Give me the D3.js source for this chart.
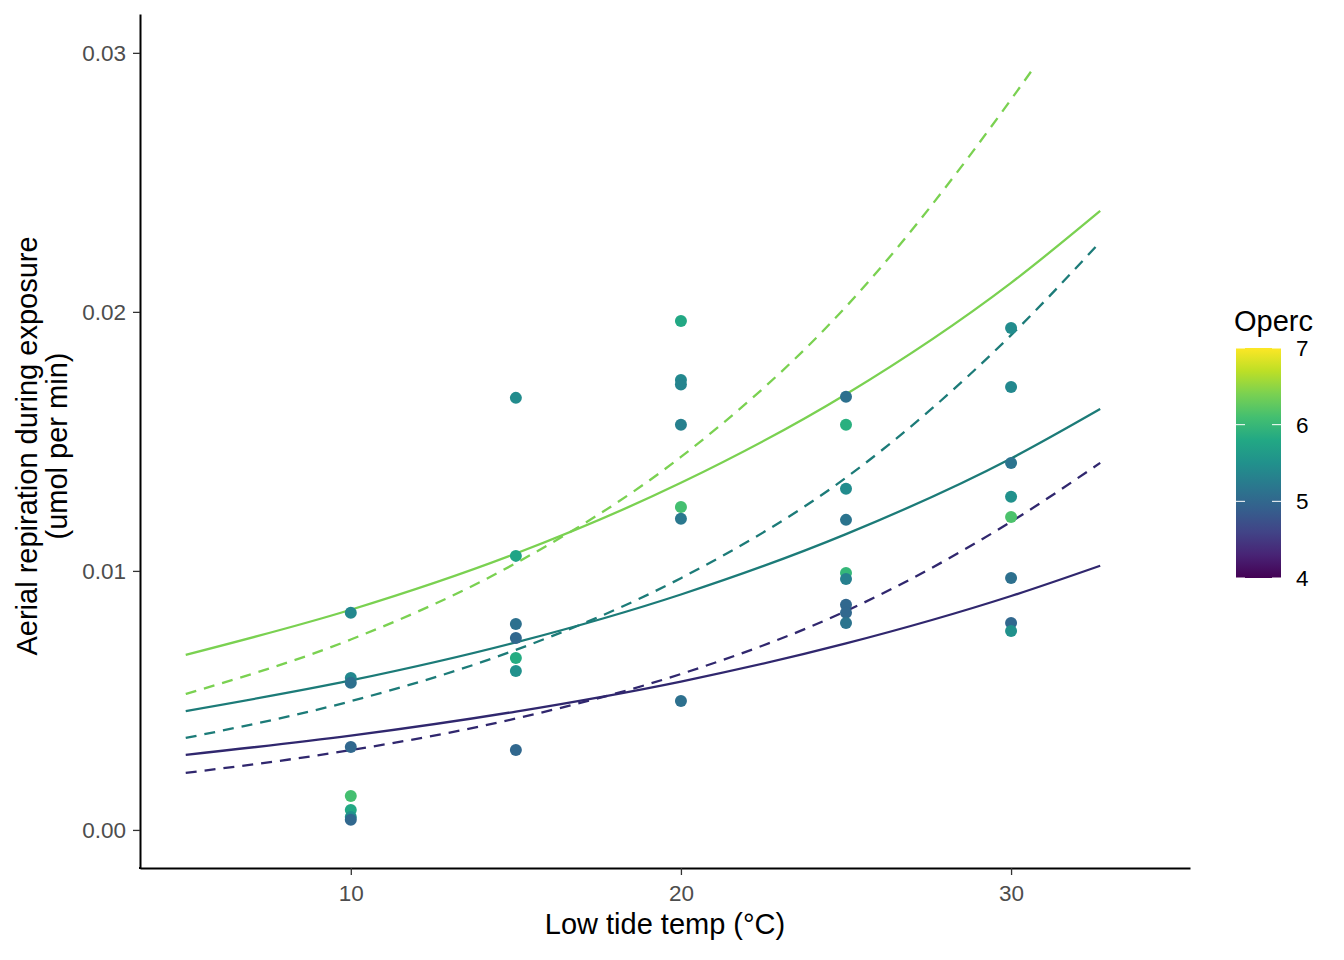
<!DOCTYPE html>
<html>
<head>
<meta charset="utf-8">
<script src="https://cdn.jsdelivr.net/npm/d3@7"></script>
<style>
  body { margin: 0; background: #fff; }
  text { font-family: "Liberation Sans", Arial, sans-serif; }
</style>
</head>
<body>
<svg id="chart" width="1344" height="960"></svg>
<script>
// ---- data ----
var ptTemp  = [10,10,10,10,10,10,10,10,
               15,15,15,15,15,15,15,
               20,20,20,20,20,20,20,
               25,25,25,25,25,25,25,25,25,
               30,30,30,30,30,30,30,30]
var ptResp  = [0.00838,0.00587,0.00568,0.0032,0.00131,0.00077,0.0005,0.00039,
               0.01668,0.01058,0.00795,0.00741,0.00664,0.00614,0.00309,
               0.01965,0.01737,0.0172,0.01564,0.01247,0.01201,0.00498,
               0.01672,0.01564,0.01317,0.01197,0.00992,0.00969,0.00869,0.00838,0.00799,
               0.01938,0.0171,0.01417,0.01286,0.01208,0.00973,0.00799,0.00768]
var ptOperc = [5.4,5.4,5.1,5.0,6.1,5.8,5.5,5.0,
               5.45,5.75,5.1,5.0,5.85,5.5,5.0,
               5.8,5.4,5.35,5.3,6.1,5.2,5.1,
               5.1,5.9,5.45,5.15,6.0,5.3,5.0,5.0,5.15,
               5.45,5.4,5.15,5.5,6.15,5.1,5.0,5.5]

// fitted curves, read at these temperatures
var lineTemp = [5,10,15,20,25,30,32.7]
var solidLow  = [0.0029,0.00364,0.00457,0.00573,0.0072,0.00903,0.0102]
var solidMid  = [0.00459,0.00577,0.00724,0.00909,0.01142,0.01434,0.01625]
var solidHigh = [0.00676,0.0085,0.01067,0.0134,0.01682,0.02112,0.0239]
var dashLow   = [0.0022,0.00308,0.0043,0.00602,0.00845,0.0119,0.01417]
var dashMid   = [0.00355,0.00497,0.00695,0.00972,0.0136,0.0191,0.0227]
var dashHighTemp = [5,10,15,20,25,30,30.73]
var dashHigh  = [0.00525,0.00735,0.0103,0.0144,0.0202,0.0282,0.0295]

var xTicks = [10,20,30]
var yTicks = [0,0.01,0.02,0.03]
var legendTicks = [4,5,6,7]

var svg = d3.select("#chart")

var pLeft = 140, pRight = 1190, pTop = 14, pBottom = 868

var x = d3.scaleLinear().domain([3.615, 35.42]).range([pLeft, pRight])
var y = d3.scaleLinear().domain([-0.00147, 0.0315]).range([pBottom, pTop])
var col = d3.scaleSequential(d3.interpolateViridis).domain([4, 7])

svg.append("rect").attr("width",1344).attr("height",960).attr("fill","#fff")

// lines
var line = d3.line()
  .x(function(d){ return x(d[0]) })
  .y(function(d){ return y(d[1]) })
  .curve(d3.curveMonotoneX)

var curves = [
  {t: lineTemp, v: solidLow,  c: "#30276e", dash: null},
  {t: lineTemp, v: solidMid,  c: "#1c7b78", dash: null},
  {t: lineTemp, v: solidHigh, c: "#7ad151", dash: null},
  {t: lineTemp, v: dashLow,   c: "#30276e", dash: "11,8"},
  {t: lineTemp, v: dashMid,   c: "#1c7b78", dash: "11,8"},
  {t: dashHighTemp, v: dashHigh, c: "#7ad151", dash: "11,8"}
]

svg.append("g").selectAll("path")
  .data(curves)
  .enter()
  .append("path")
    .attr("d", function(d){ return line(d.t.map(function(t,i){ return [t, d.v[i]] })) })
    .attr("fill","none")
    .attr("stroke", function(d){ return d.c })
    .attr("stroke-width", 2.3)
    .attr("stroke-dasharray", function(d){ return d.dash })

// points
svg.append("g").selectAll("circle")
  .data(ptTemp)
  .enter()
  .append("circle")
    .attr("cx", function(d){ return x(d) })
    .attr("cy", function(d,i){ return y(ptResp[i]) })
    .attr("r", 6)
    .attr("fill", function(d,i){ return col(ptOperc[i]) })

// axes
var xAxis = svg.append("g")
  .attr("transform", "translate(0," + pBottom + ")")
  .call(d3.axisBottom(x).tickValues(xTicks).tickSize(7).tickSizeOuter(0).tickPadding(10))
var yAxis = svg.append("g")
  .attr("transform", "translate(" + pLeft + ",0)")
  .call(d3.axisLeft(y).tickValues(yTicks).tickFormat(d3.format(".2f")).tickSize(7).tickSizeOuter(0).tickPadding(7))

;[xAxis, yAxis].forEach(function(a){
  a.select(".domain").attr("stroke","#000").attr("stroke-width",2)
  a.selectAll(".tick line").attr("stroke","#333").attr("stroke-width",1.3)
  a.selectAll(".tick text").attr("fill","#4d4d4d").style("font-size","22.5px")
    .style("font-family","'Liberation Sans', Arial, sans-serif")
})
// close the corner
svg.append("rect").attr("x",pLeft-1).attr("y",pBottom-1).attr("width",2).attr("height",2).attr("fill","#000")

// titles
svg.append("text")
  .attr("x", (pLeft+pRight)/2).attr("y", 934)
  .attr("text-anchor","middle").style("font-size","29px").text("Low tide temp (°C)")

var yt = svg.append("text")
  .attr("transform","translate(37,446) rotate(-90)")
  .attr("text-anchor","middle").style("font-size","29px")
yt.append("tspan").attr("x",0).attr("dy",0).text("Aerial repiration during exposure")
yt.append("tspan").attr("x",0).attr("dy",30).text("(umol per min)")

// legend
var lg = svg.append("g")
var lx = 1236, lw = 45, ly0 = 348, ly1 = 578
var ly = d3.scaleLinear().domain([4,7]).range([ly1, ly0])

var defs = svg.append("defs")
var grad = defs.append("linearGradient").attr("id","vir")
  .attr("x1","0").attr("y1","1").attr("x2","0").attr("y2","0")
d3.range(0, 1.0001, 0.1).forEach(function(t){
  grad.append("stop").attr("offset", t).attr("stop-color", d3.interpolateViridis(t))
})

lg.append("text").attr("x",1234).attr("y",331).style("font-size","29px").text("Operc")
lg.append("rect").attr("x",lx).attr("y",ly0).attr("width",lw).attr("height",ly1-ly0)
  .attr("fill","url(#vir)")

lg.selectAll("g.tk")
  .data(legendTicks)
  .enter()
  .append("g")
    .attr("class","tk")
    .each(function(d){
      var g = d3.select(this)
      g.append("line").attr("x1",lx).attr("x2",lx+9).attr("y1",ly(d)).attr("y2",ly(d))
        .attr("stroke","#fff").attr("stroke-width",1)
      g.append("line").attr("x1",lx+lw-9).attr("x2",lx+lw).attr("y1",ly(d)).attr("y2",ly(d))
        .attr("stroke","#fff").attr("stroke-width",1)
      g.append("text").attr("x",1296).attr("y",ly(d)).attr("dy","0.36em")
        .style("font-size","22.5px").text(d)
    })
</script>
</body>
</html>
